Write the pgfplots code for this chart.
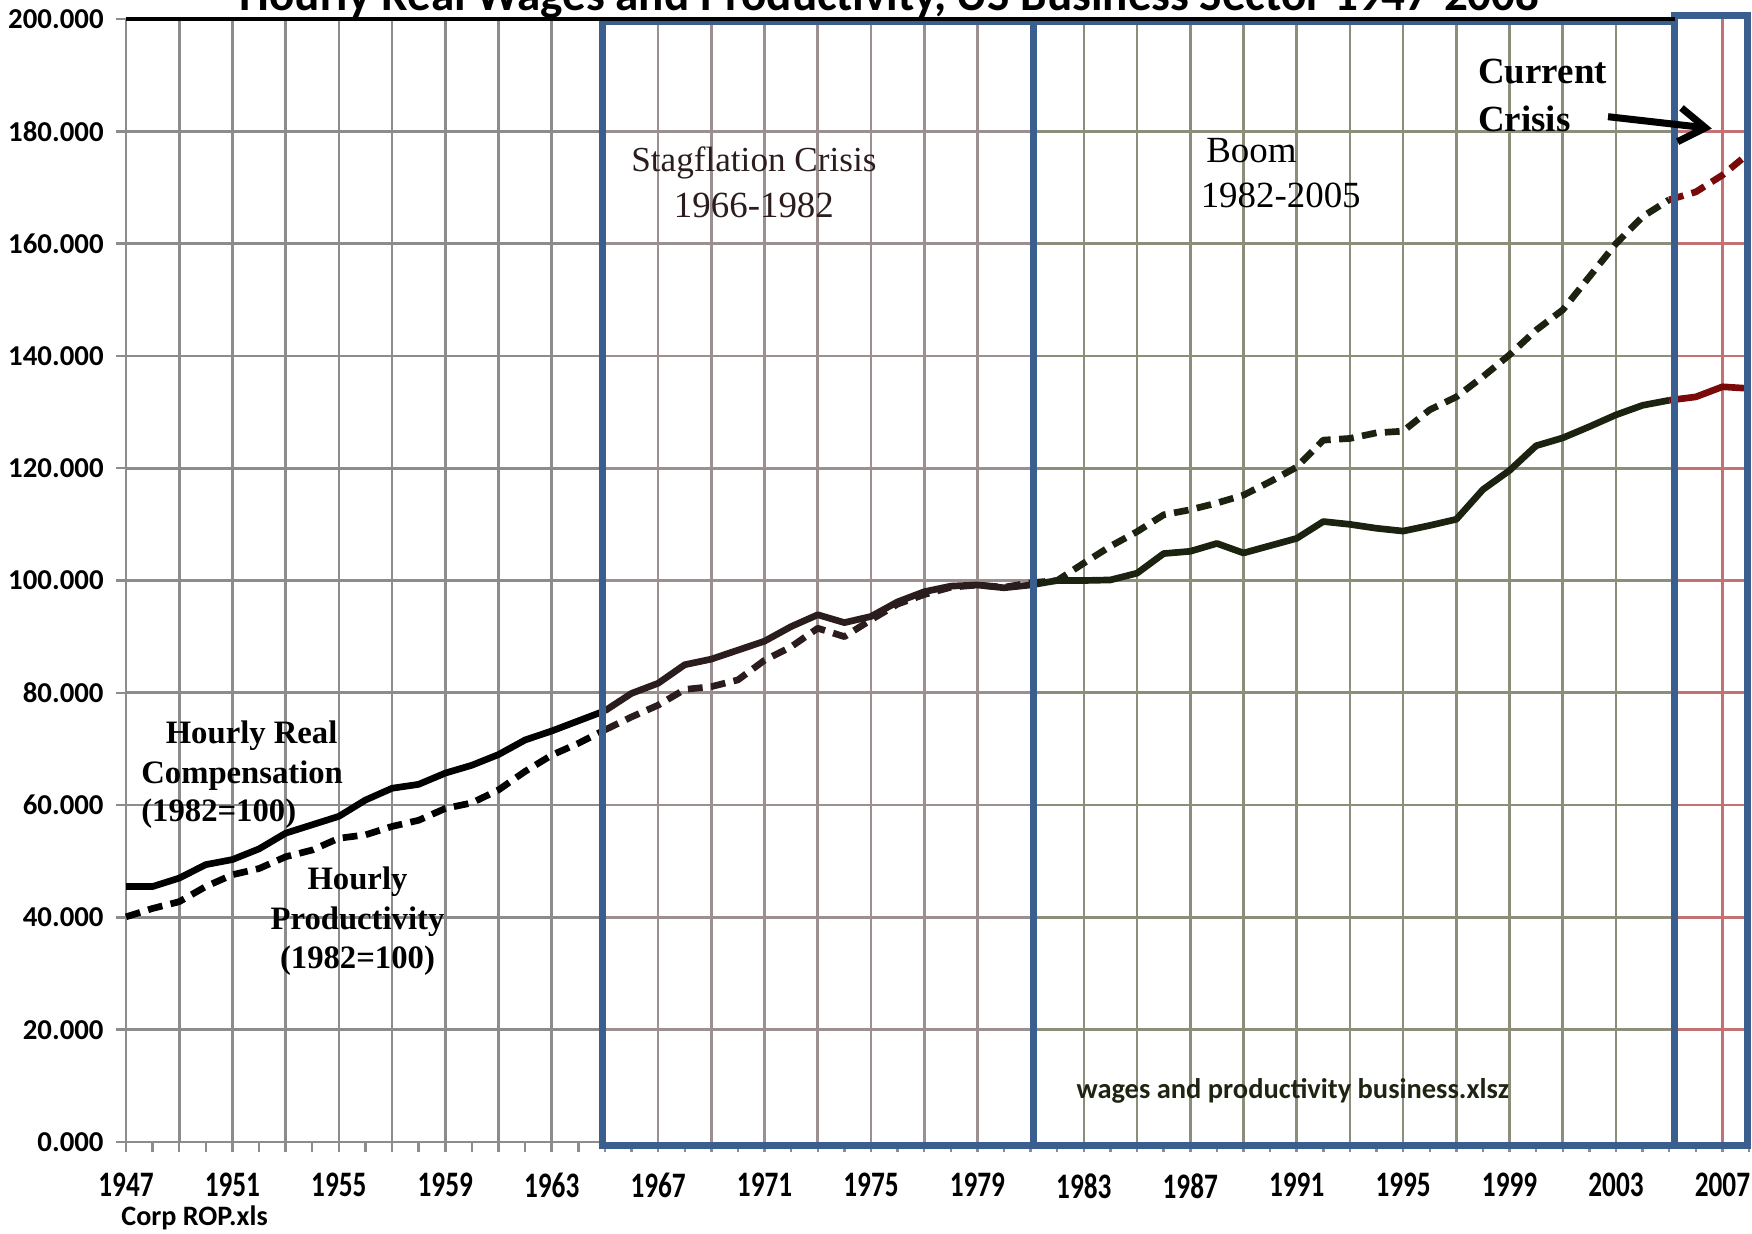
\documentclass[border=0pt]{standalone}
\usepackage{fontspec}
\setmainfont{Liberation Serif}
\newfontfamily\calb{Carlito}
\newfontfamily\calx[FakeStretch=0.76]{Carlito}
\usepackage{pgfplots}
\pgfplotsset{compat=1.18}
\usetikzlibrary{arrows.meta,calc}
\definecolor{boxblue}{HTML}{3A5F8F}
\definecolor{gA}{HTML}{8C8C8C}
\definecolor{gB}{HTML}{9C8F8F}
\definecolor{gC}{HTML}{8C8E7A}
\definecolor{gD}{HTML}{C27272}
\definecolor{lB}{HTML}{2B1D1D}
\definecolor{lC}{HTML}{1C2210}
\definecolor{lD}{HTML}{7A0A0A}
\definecolor{txtB}{HTML}{2B1D1D}
\definecolor{txtC}{HTML}{1E2412}

\begin{document}
\begin{tikzpicture}
\begin{axis}[
  scale only axis, width=162.3mm, height=112.3mm,
  xmin=1947, xmax=2008, ymin=0, ymax=200,
  axis line style={draw=none},
  clip=false,
  tick align=outside,
  xtick pos=bottom, ytick pos=left,
  major tick length=1mm, minor tick length=1mm,
  tick style={gA, line width=0.7pt},
  xtick={1947,1951,1955,1959,1963,1967,1971,1975,1979,1983,1987,1991,1995,1999,2003,2007},
  xticklabels={1947,1951,1955,1959,1963,1967,1971,1975,1979,1983,1987,1991,1995,1999,2003,2007},
  minor xtick={1947,1948,...,2008},
  ytick={0,20,...,200},
  yticklabels={0.000,20.000,40.000,60.000,80.000,100.000,120.000,140.000,160.000,180.000,200.000},
  xticklabel style={font=\calx\bfseries\fontsize{10.2}{12}\selectfont, yshift=-0.9mm},
  yticklabel style={font=\calb\bfseries\fontsize{8.2}{10}\selectfont},
  every axis plot/.append style={line width=1.9pt, line join=round},
  sol/.style={solid},
  dsh/.style={dash pattern=on 4.2pt off 2.4pt},
]
% ---------- grid lines by region ----------
\pgfplotsinvokeforeach{1947,1949,...,1963}{\draw[gA, line width=0.75pt] (axis cs:#1,0) -- (axis cs:#1,200);}
\pgfplotsinvokeforeach{0,20,...,180}{\draw[gA, line width=0.75pt] (axis cs:1947,#1) -- (axis cs:1964.9,#1);}
\pgfplotsinvokeforeach{1967,1969,...,1979}{\draw[gB, line width=0.75pt] (axis cs:#1,0) -- (axis cs:#1,199.5);}
\pgfplotsinvokeforeach{20,40,...,180}{\draw[gB, line width=0.75pt] (axis cs:1964.9,#1) -- (axis cs:1981.1,#1);}
\pgfplotsinvokeforeach{1983,1985,...,2003}{\draw[gC, line width=0.75pt] (axis cs:#1,0) -- (axis cs:#1,199.5);}
\pgfplotsinvokeforeach{20,40,...,180}{\draw[gC, line width=0.75pt] (axis cs:1981.1,#1) -- (axis cs:2005.2,#1);}
\draw[gD, line width=0.75pt] (axis cs:2007,0) -- (axis cs:2007,200);
\pgfplotsinvokeforeach{20,40,...,180}{\draw[gD, line width=0.75pt] (axis cs:2005.2,#1) -- (axis cs:2008,#1);}

% ---------- Hourly real compensation (solid) ----------
\addplot[black, sol] coordinates {
(1947,45.5)(1948,45.5)(1949,47)(1950,49.4)(1951,50.3)(1952,52.2)(1953,55)(1954,56.5)
(1955,58)(1956,60.9)(1957,63)(1958,63.7)(1959,65.7)(1960,67.1)(1961,69)(1962,71.6)
(1963,73.2)(1964,75)(1965,76.8)};
\addplot[lB, sol] coordinates {
(1965,76.8)(1966,79.9)(1967,81.7)(1968,85)(1969,86)(1970,87.6)(1971,89.2)(1972,91.8)
(1973,93.9)(1974,92.5)(1975,93.6)(1976,96.2)(1977,98)(1978,99)(1979,99.2)(1980,98.7)(1981,99.2)};
\addplot[lC, sol] coordinates {
(1981,99.2)(1982,100)(1983,100)(1984,100.1)(1985,101.3)(1986,104.8)(1987,105.2)(1988,106.6)
(1989,104.9)(1990,106.2)(1991,107.5)(1992,110.5)(1993,110)(1994,109.3)(1995,108.8)(1996,109.8)
(1997,110.9)(1998,116.2)(1999,119.6)(2000,124)(2001,125.4)(2002,127.4)(2003,129.5)(2004,131.2)(2005,132.1)};
\addplot[lD, sol] coordinates {(2005,132.1)(2006,132.7)(2007,134.5)(2008,134.2)};

% ---------- Hourly productivity (dashed) ----------
\addplot[black, dsh] coordinates {
(1947,40.1)(1948,41.6)(1949,42.8)(1950,45.5)(1951,47.6)(1952,48.7)(1953,50.8)(1954,52)
(1955,54.1)(1956,54.7)(1957,56.2)(1958,57.3)(1959,59.4)(1960,60.4)(1961,62.7)(1962,66)
(1963,68.9)(1964,71)(1965,73.4)};
\addplot[lB, dsh] coordinates {
(1965,73.4)(1966,75.7)(1967,77.8)(1968,80.6)(1969,81.1)(1970,82.3)(1971,85.8)(1972,88.2)
(1973,91.5)(1974,90)(1975,93)(1976,95.8)(1977,97.5)(1978,98.8)(1979,99.2)(1980,98.8)(1981,99.6)};
\addplot[lC, dsh] coordinates {
(1981,99.6)(1982,100)(1983,103.1)(1984,106.1)(1985,108.7)(1986,111.7)(1987,112.6)(1988,113.8)
(1989,115.2)(1990,117.6)(1991,120.2)(1992,125)(1993,125.3)(1994,126.3)(1995,126.6)(1996,130.4)
(1997,132.7)(1998,136.3)(1999,140.2)(2000,144.6)(2001,148.2)(2002,154.1)(2003,160)(2004,164.8)(2005,167.8)};
\addplot[lD, dsh] coordinates {(2005,167.8)(2006,169.2)(2007,172.2)(2008,176.1)};

% ---------- period boxes ----------
\draw[boxblue, line width=2pt] (axis cs:1964.9,-0.6) rectangle (axis cs:1981.1,199.5);
\draw[boxblue, line width=2pt] (axis cs:1981.1,-0.6) rectangle (axis cs:2005.2,199.5);
\draw[boxblue, line width=2pt] (axis cs:2005.2,-0.6) rectangle (axis cs:2007.95,200.6);
\draw[black, line width=1pt] (axis cs:1947,200) -- (axis cs:2005.2,200);

% ---------- annotations ----------
\node[anchor=base west, font=\bfseries\fontsize{9.3}{11}\selectfont, inner sep=0pt] at (axis cs:1948.47,70.9) {Hourly Real};
\node[anchor=base west, font=\bfseries\fontsize{9.3}{11}\selectfont, inner sep=0pt] at (axis cs:1947.55,63.8) {Compensation};
\node[anchor=base west, font=\bfseries\fontsize{9.3}{11}\selectfont, inner sep=0pt] at (axis cs:1947.55,57.0) {(1982=100)};
\node[anchor=base, font=\bfseries\fontsize{9.3}{11}\selectfont, inner sep=0pt] at (axis cs:1955.7,44.9) {Hourly};
\node[anchor=base, font=\bfseries\fontsize{9.3}{11}\selectfont, inner sep=0pt] at (axis cs:1955.7,37.9) {Productivity};
\node[anchor=base, font=\bfseries\fontsize{9.3}{11}\selectfont, inner sep=0pt] at (axis cs:1955.7,30.9) {(1982=100)};
\node[anchor=base, text=txtB, font=\fontsize{10}{12}\selectfont, inner sep=0pt] at (axis cs:1970.6,172.8) {Stagflation Crisis};
\node[anchor=base, text=txtB, font=\fontsize{10.5}{12}\selectfont, inner sep=0pt] at (axis cs:1970.6,164.7) {1966-1982};
\node[anchor=base, font=\fontsize{10.5}{12}\selectfont, inner sep=0pt] at (axis cs:1989.3,174.4) {Boom};
\node[anchor=base, font=\fontsize{10.5}{12}\selectfont, inner sep=0pt] at (axis cs:1990.4,166.5) {1982-2005};
\node[anchor=base west, font=\bfseries\fontsize{10.5}{12}\selectfont, inner sep=0pt] at (axis cs:1997.8,188.5) {Current};
\node[anchor=base west, font=\bfseries\fontsize{10.5}{12}\selectfont, inner sep=0pt] at (axis cs:1997.8,179.9) {Crisis};
\draw[black, line width=2pt, -{Straight Barb[length=2.6mm,width=3.4mm]}] (axis cs:2002.7,182.6) -- (axis cs:2006.6,180.5);
\node[anchor=base west, text=txtC, font=\calb\bfseries\fontsize{8.1}{10}\selectfont, inner sep=0pt] at (axis cs:1982.7,7.8) {wages and productivity business.xlsz};
\node[anchor=base west, font=\calb\bfseries\fontsize{8}{10}\selectfont, inner sep=0pt] at (axis cs:1946.8,-14.8) {Corp ROP.xls};
\node[anchor=base, font=\calb\bfseries\fontsize{13.4}{15}\selectfont, inner sep=0pt, yshift=0.8mm] at (axis cs:1975.7,200) {Hourly Real Wages and Productivity, US Business Sector 1947-2008};
\coordinate (BL) at (rel axis cs:0,0);
\coordinate (TR) at (rel axis cs:1,1);
\end{axis}
\pgfresetboundingbox
\path[use as bounding box] ($(BL)+(-12.6mm,-9.1mm)$) rectangle ($(TR)+(0.3mm,1.9mm)$);
\end{tikzpicture}
\end{document}
